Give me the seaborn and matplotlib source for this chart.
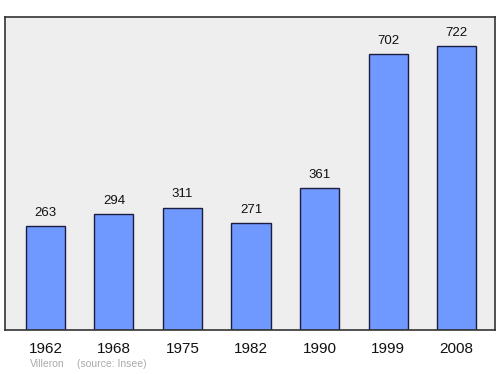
import matplotlib
matplotlib.use("Agg")
import matplotlib.pyplot as plt
import seaborn as sns
import pandas as pd

years = ["1962", "1968", "1975", "1982", "1990", "1999", "2008"]
population = [263, 294, 311, 271, 361, 702, 722]
town = "Villeron"
source = "(source: Insee)"

sns.set_theme(style="white")
plt.rcParams['font.family'] = ['Liberation Sans', 'DejaVu Sans']

df = pd.DataFrame({"year": years, "pop": population})

fig = plt.figure(figsize=(5, 3.74), dpi=100)
ax = fig.add_axes([0.01, 0.118, 0.98, 0.837])
ax.set_facecolor("#eeeeee")
sns.barplot(data=df, x="year", y="pop", ax=ax, color="#7099ff", saturation=1,
            width=0.57, edgecolor="#1c1c40", linewidth=1)
for p, v in zip(ax.patches, population):
    ax.text(p.get_x() + p.get_width() / 2, v + 18, str(v), ha="center", va="bottom",
            fontsize=9.5, color="#111111")
ax.set_xlim(-0.59, 6.56)
ax.set_ylim(0, 796)
ax.set_yticks([])
ax.set_xlabel("")
ax.set_ylabel("")
ax.tick_params(axis="x", length=0, labelsize=11, pad=9, colors="#111111")
for s in ax.spines.values():
    s.set_visible(True)
    s.set_color("#333333")
    s.set_linewidth(1.2)
fig.text(0.06, 0.018, town, fontsize=7.5, color="#aaaaaa")
fig.text(0.154, 0.018, source, fontsize=7.5, color="#aaaaaa")
fig.savefig("out.png", dpi=100)
